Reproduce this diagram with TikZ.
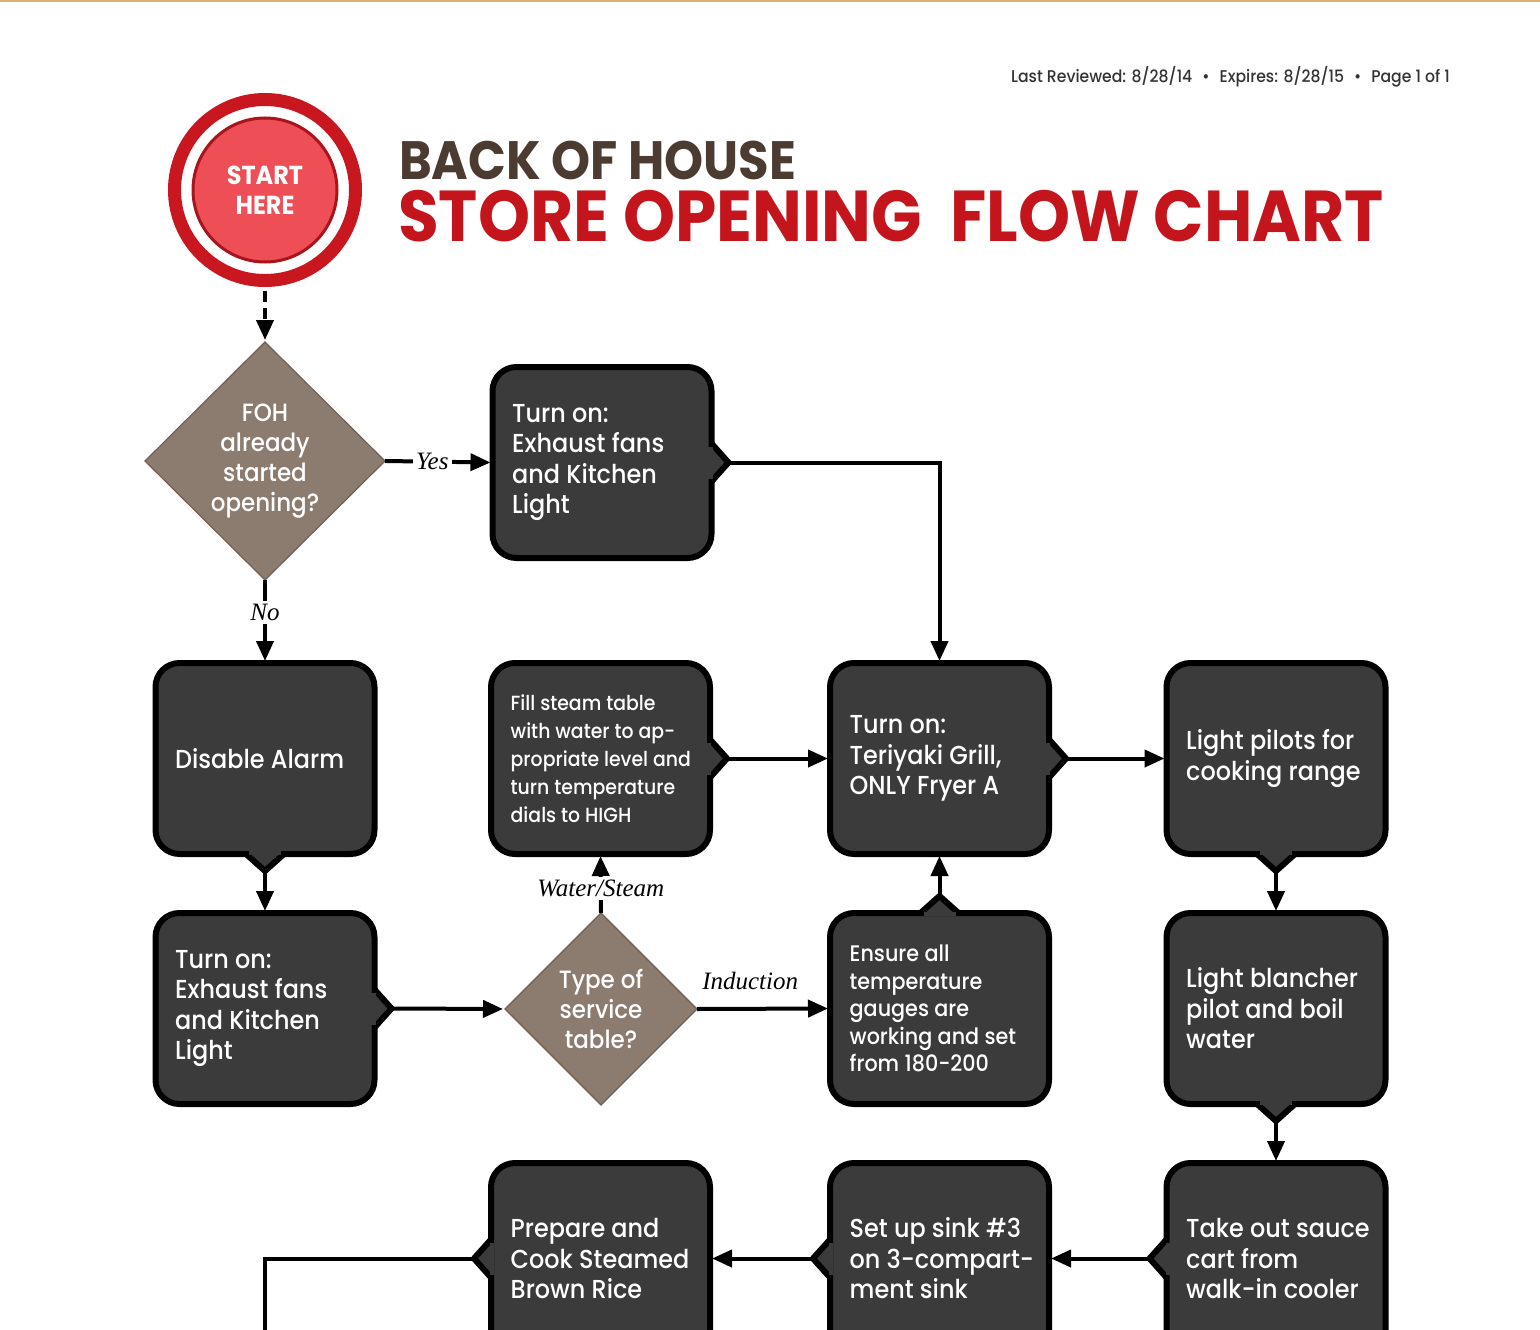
\documentclass[tikz,border=0pt]{standalone}
\usepackage{fontspec}
\setmainfont{Poppins}[FakeStretch=0.92]
\newfontfamily\medfont{Poppins Medium}[FakeStretch=0.92]
\newfontfamily\lblfont{Liberation Serif}
\usetikzlibrary{arrows.meta,shapes.geometric}
\definecolor{ringred}{HTML}{C8171F}
\definecolor{innerred}{HTML}{EE4E56}
\definecolor{innerline}{HTML}{A8151B}
\definecolor{titlered}{HTML}{C5151C}
\definecolor{titlebrown}{HTML}{4B3B30}
\definecolor{taupe}{HTML}{8C7B6F}
\definecolor{taupeline}{HTML}{6F6054}
\definecolor{boxgray}{HTML}{3C3B3B}
\definecolor{topline}{HTML}{D9B274}
\definecolor{headgray}{HTML}{333333}
\newcommand{\boxtxt}{\medfont\fontsize{26}{30.5}\selectfont}
% box with left-aligned text placed at a fixed inset
\newcommand{\boxnode}[4]{%
  \node[box] (#1) at (#2) {};
  \node[btext, font=#3] (#1-txt) at ([xshift=19.5pt]#1.west) {#4};}
\newcommand{\notchR}[1]{%
  \filldraw[notch] ([yshift=19pt]#1.east) -- ([xshift=17pt]#1.east) -- ([yshift=-19pt]#1.east);
  \fill[boxgray] ([xshift=-3.3pt,yshift=16pt]#1.east) rectangle ([xshift=1pt,yshift=-16pt]#1.east);
  \coordinate (#1-r) at ([xshift=17pt]#1.east);}
\newcommand{\notchL}[1]{%
  \filldraw[notch] ([yshift=19pt]#1.west) -- ([xshift=-17pt]#1.west) -- ([yshift=-19pt]#1.west);
  \fill[boxgray] ([xshift=3.3pt,yshift=16pt]#1.west) rectangle ([xshift=-1pt,yshift=-16pt]#1.west);
  \coordinate (#1-l) at ([xshift=-17pt]#1.west);}
\newcommand{\notchB}[1]{%
  \filldraw[notch] ([xshift=-19pt]#1.south) -- ([yshift=-17pt]#1.south) -- ([xshift=19pt]#1.south);
  \fill[boxgray] ([xshift=-16pt,yshift=3.3pt]#1.south) rectangle ([xshift=16pt,yshift=-1pt]#1.south);
  \coordinate (#1-b) at ([yshift=-17pt]#1.south);}
\newcommand{\notchT}[1]{%
  \filldraw[notch] ([xshift=-19pt]#1.north) -- ([yshift=17pt]#1.north) -- ([xshift=19pt]#1.north);
  \fill[boxgray] ([xshift=-16pt,yshift=-3.3pt]#1.north) rectangle ([xshift=16pt,yshift=1pt]#1.north);
  \coordinate (#1-t) at ([yshift=17pt]#1.north);}
\begin{document}
\begin{tikzpicture}[x=1pt,y=-1pt,
  box/.style={rectangle, rounded corners=24pt, draw=black, line width=6pt, fill=boxgray,
    minimum width=219pt, minimum height=191pt, outer sep=0pt, inner sep=0pt},
  btext/.style={anchor=west, text=white, align=left, inner sep=0pt},
  notch/.style={draw=black, fill=boxgray, line width=6pt, line join=round},
  decision/.style={diamond, fill=taupe, draw=taupeline, line width=1.2pt, outer sep=0pt,
    inner sep=0pt, text=white, align=center, font=\medfont\fontsize{25}{30}\selectfont},
  conn/.style={line width=4pt, shorten >=2pt, -{Triangle[length=20pt,width=17pt]}},
  lbl/.style={font=\lblfont\itshape\fontsize{25}{27}\selectfont, fill=white, inner sep=3pt}]
\fill[white] (0,0) rectangle (1540,1330);
\clip (0,0) rectangle (1540,1330);
\fill[topline] (0,0) rectangle (1540,2.5);

% header
\node[anchor=base east, text=headgray, font=\medfont\fontsize{17}{20}\selectfont, inner sep=0pt] (hdr) at (1450,83)
  {Last Reviewed: 8/28/14\hspace{10pt}•\hspace{10pt}Expires: 8/28/15\hspace{10pt}•\hspace{10pt}Page 1 of 1};

% title
\node[anchor=base west, text=titlebrown, font=\bfseries\fontsize{54}{58}\selectfont, inner sep=0pt,
  text height=37pt, text depth=0pt] (t1) at (399,179) {BACK OF HOUSE};
\node[anchor=base west, text=titlered, font=\bfseries\fontsize{72}{76}\selectfont, inner sep=0pt,
  text height=50pt, text depth=0pt] (t2) at (398,241) {STORE OPENING\ \ FLOW CHART};

% start
\node[circle, draw=ringred, line width=13pt, minimum size=181pt, inner sep=0pt] (ring) at (265,190) {};
\node[circle, fill=innerred, draw=innerline, line width=3pt, minimum size=144pt, inner sep=0pt,
  text=white, align=center, font=\bfseries\fontsize{26}{30}\selectfont] (start) at (265,190) {START\\HERE};

% decisions
\node[decision, minimum width=240pt, minimum height=238pt] (d1) at (265,461) {FOH\\already\\started\\opening?};
\node[decision, minimum width=192pt, minimum height=192pt] (d2) at (601,1009) {Type of\\service\\table?};

% boxes
\boxnode{a}{602,462.5}{\boxtxt}{Turn on:\\Exhaust fans\\and Kitchen\\Light}
\boxnode{da}{265,758.5}{\boxtxt}{Disable Alarm}
\boxnode{fs}{600.5,758.5}{\medfont\fontsize{20.5}{28}\selectfont}{Fill steam table\\with water to ap-\\propriate level and\\turn temperature\\dials to HIGH}
\boxnode{tg}{939.5,758.5}{\boxtxt}{Turn on:\\Teriyaki Grill,\\ONLY Fryer A}
\boxnode{lp}{1276,758.5}{\boxtxt}{Light pilots for\\cooking range}
\boxnode{te}{265,1008.5}{\boxtxt}{Turn on:\\Exhaust fans\\and Kitchen\\Light}
\boxnode{en}{939.5,1008.5}{\medfont\fontsize{22.5}{27.5}\selectfont}{Ensure all\\temperature\\gauges are\\working and set\\from 180-200}
\boxnode{lb}{1276,1008.5}{\boxtxt}{Light blancher\\pilot and boil\\water}
\boxnode{pr}{600.5,1258.5}{\boxtxt}{Prepare and\\Cook Steamed\\Brown Rice}
\boxnode{ss}{939.5,1258.5}{\boxtxt}{Set up sink \#3\\on 3-compart-\\ment sink}
\boxnode{to}{1276,1258.5}{\boxtxt}{Take out sauce\\cart from\\walk-in cooler}

% notches
\notchR{a}
\notchB{da}
\notchR{fs}
\notchR{tg}
\notchB{lp}
\notchR{te}
\notchT{en}
\notchB{lb}
\notchL{to}
\notchL{ss}
\notchL{pr}

\coordinate (endpt) at (265,1345);

% connectors
\draw[conn, dash pattern=on 11pt off 6pt, shorten <=4pt] (ring.south) -- (d1.north);
\draw[conn] (d1.east) -- node[lbl, pos=0.44] {Yes} (a.west);
\draw[conn] (d1.south) -- node[lbl, pos=0.39] {No} (da.north);
\draw[conn] (a-r) -| (tg.north);
\draw[conn] (da-b) -- (te.north);
\draw[conn] (te-r) -- (d2.west);
\draw[conn] (d2.north) -- node[lbl, pos=0.42] {Water/Steam} (fs.south);
\draw[conn] (d2.east) -- node[lbl, pos=0.4, above=14pt, fill=none] {Induction} (en.west);
\draw[conn] (fs-r) -- (tg.west);
\draw[conn] (en-t) -- (tg.south);
\draw[conn] (tg-r) -- (lp.west);
\draw[conn] (lp-b) -- (lb.north);
\draw[conn] (lb-b) -- (to.north);
\draw[conn] (to-l) -- (ss.east);
\draw[conn] (ss-l) -- (pr.east);
\draw[line width=4pt] (pr-l) -| (endpt);
\end{tikzpicture}
\end{document}
